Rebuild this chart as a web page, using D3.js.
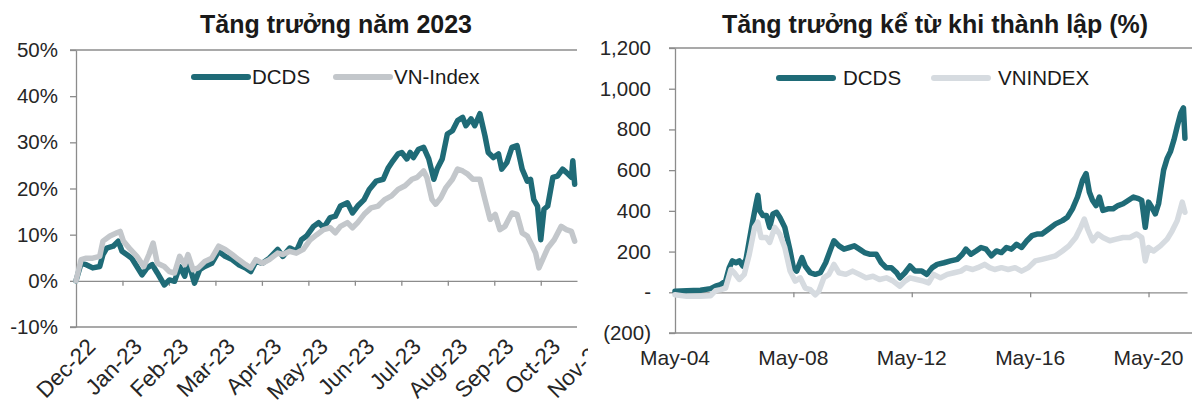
<!DOCTYPE html>
<html>
<head>
<meta charset="utf-8">
<script src="https://cdn.jsdelivr.net/npm/d3@7"></script>
<style>
body { margin: 0; background: #fff; }
svg { display: block; }
</style>
</head>
<body>
<div id="canvas"></div>
<script>
var w = 1192;
var h = 405;
var teal = "#1f6b77";
var grayLeft = "#c3c7cb";
var grayRight = "#d6dbe0";
var axisColor = "#8c8c8c";
var font = "'Liberation Sans', Arial, sans-serif";

// ---- left chart: growth in 2023 (x = months after Dec-22, y = %)
var ytdMonths = ["Dec-22", "Jan-23", "Feb-23", "Mar-23", "Apr-23", "May-23", "Jun-23",
                 "Jul-23", "Aug-23", "Sep-23", "Oct-23", "Nov-23"];
var ytdTicks = [-10, 0, 10, 20, 30, 40, 50];
var ytdDcds = [[0,0],[0.11,3.8],[0.22,3.5],[0.36,2.8],[0.51,3.1],[0.58,5.7],[0.66,7.1],[0.80,7.5],
  [0.91,8.6],[0.99,6.4],[1.09,5.7],[1.20,4.9],[1.31,3.1],[1.42,1.3],[1.53,2.8],[1.64,3.5],[1.75,1.7],
  [1.90,-0.9],[2.01,0.2],[2.12,-0.1],[2.23,3.1],[2.34,1.0],[2.41,4.4],[2.52,0.5],[2.55,-0.5],[2.66,2.4],
  [2.77,3.1],[2.92,3.8],[3.07,6.4],[3.21,5.3],[3.36,4.6],[3.50,3.5],[3.65,2.8],[3.76,2.0],[3.87,4.2],
  [4.01,3.8],[4.16,4.9],[4.34,6.8],[4.45,5.3],[4.60,7.1],[4.74,6.4],[4.85,8.9],[4.96,9.7],[5.11,11.8],
  [5.22,12.6],[5.33,11.5],[5.47,13.7],[5.58,14.0],[5.69,16.2],[5.84,16.9],[5.95,14.7],[6.06,16.2],
  [6.20,17.6],[6.31,19.8],[6.46,21.6],[6.61,22.0],[6.72,24.5],[6.82,26.0],[6.93,27.5],[7.01,27.8],
  [7.12,26.4],[7.19,27.8],[7.26,26.7],[7.37,28.5],[7.48,28.9],[7.59,26.4],[7.70,22.0],[7.77,24.2],
  [7.88,26.4],[7.99,31.8],[8.10,32.5],[8.21,34.7],[8.32,35.4],[8.39,33.6],[8.50,35.1],[8.58,33.6],
  [8.69,36.2],[8.80,31.4],[8.87,27.8],[8.98,26.7],[9.09,27.5],[9.16,24.2],[9.27,25.6],[9.38,28.9],
  [9.49,29.3],[9.60,24.2],[9.71,21.6],[9.78,22.0],[9.85,17.6],[9.93,16.2],[10.00,8.9],[10.07,15.5],
  [10.15,16.2],[10.26,22.4],[10.36,22.7],[10.47,24.2],[10.55,23.5],[10.66,22.4],[10.69,26.0],[10.73,20.9]];
var ytdVnIndex = [[0,0],[0.11,4.6],[0.22,4.9],[0.36,4.9],[0.51,5.3],[0.58,8.6],[0.73,9.7],[0.88,10.4],
  [0.95,10.7],[1.02,8.6],[1.17,6.8],[1.31,5.3],[1.46,3.1],[1.57,5.7],[1.66,8.2],[1.75,3.8],[1.90,3.1],
  [2.01,2.0],[2.12,1.7],[2.23,5.3],[2.34,3.5],[2.41,5.7],[2.52,2.4],[2.63,2.8],[2.77,4.2],[2.92,4.9],
  [3.07,7.5],[3.21,6.8],[3.36,5.7],[3.50,4.6],[3.65,3.5],[3.76,2.8],[3.87,4.6],[4.01,3.8],[4.16,4.6],
  [4.34,6.0],[4.45,5.7],[4.60,6.4],[4.74,6.0],[4.89,6.8],[5.04,8.9],[5.18,10.0],[5.33,11.1],[5.47,11.5],
  [5.58,10.4],[5.69,11.8],[5.84,12.6],[5.95,11.5],[6.06,12.6],[6.20,14.4],[6.35,15.8],[6.50,16.2],
  [6.64,17.6],[6.79,18.4],[6.93,19.8],[7.08,20.6],[7.23,22.0],[7.34,22.4],[7.48,23.8],[7.55,22.4],
  [7.66,17.6],[7.74,16.6],[7.85,18.0],[7.96,20.2],[8.10,22.0],[8.21,24.2],[8.32,23.8],[8.43,23.1],
  [8.54,22.0],[8.69,22.0],[8.80,17.6],[8.91,13.3],[9.02,14.4],[9.12,11.1],[9.23,11.8],[9.38,14.7],
  [9.49,14.4],[9.60,10.4],[9.71,9.7],[9.82,7.5],[9.89,6.0],[9.96,2.8],[10.04,4.6],[10.15,7.1],
  [10.29,8.9],[10.44,11.8],[10.55,11.1],[10.66,10.7],[10.73,8.6]];

// ---- right chart: growth since inception (x = years after May-04, y = %)
var sinceYears = ["May-04", "May-08", "May-12", "May-16", "May-20"];
var sinceTicks = [-200, 0, 200, 400, 600, 800, 1000, 1200];
var sinceDcds = [[0,5],[0.40,8],[0.86,10],[1.20,18],[1.37,30],[1.54,38],[1.71,55],[1.83,120],[1.94,154],
  [2.06,145],[2.17,154],[2.29,129],[2.40,162],[2.51,253],[2.63,352],[2.74,435],[2.80,476],[2.86,402],
  [2.97,377],[3.09,377],[3.20,319],[3.31,385],[3.43,393],[3.54,369],[3.71,319],[3.89,203],[4.00,121],
  [4.11,104],[4.29,170],[4.40,129],[4.57,96],[4.74,88],[4.91,96],[5.09,145],[5.26,212],[5.37,253],
  [5.54,228],[5.71,212],[5.89,220],[6.06,228],[6.23,212],[6.40,195],[6.57,187],[6.80,187],[6.97,145],
  [7.14,121],[7.31,121],[7.49,96],[7.60,71],[7.77,96],[7.94,129],[8.11,104],[8.34,104],[8.51,88],
  [8.69,121],[8.86,137],[9.09,145],[9.31,154],[9.54,162],[9.71,187],[9.83,212],[10.00,187],[10.17,203],
  [10.34,220],[10.51,212],[10.69,179],[10.86,203],[11.03,195],[11.20,220],[11.37,212],[11.54,236],
  [11.71,220],[11.89,253],[12.06,278],[12.23,286],[12.40,286],[12.63,311],[12.86,336],[13.09,352],
  [13.26,369],[13.43,410],[13.60,468],[13.77,550],[13.89,583],[14.00,493],[14.11,451],[14.23,426],
  [14.34,468],[14.46,402],[14.63,410],[14.80,410],[14.97,426],[15.14,435],[15.31,451],[15.49,468],
  [15.66,460],[15.77,451],[15.89,319],[16.00,443],[16.11,418],[16.23,385],[16.34,435],[16.51,600],
  [16.63,658],[16.74,691],[16.86,749],[16.97,815],[17.09,881],[17.18,906],[17.23,757]];
var sinceVnIndex = [[0,-12],[0.40,-20],[0.86,-20],[1.20,-17],[1.37,8],[1.54,13],[1.71,21],[1.89,112],
  [2.00,96],[2.17,63],[2.34,88],[2.51,187],[2.69,319],[2.80,344],[2.91,269],[3.09,269],[3.20,245],
  [3.37,319],[3.54,286],[3.71,220],[3.89,104],[4.06,55],[4.23,71],[4.40,21],[4.57,13],[4.74,-12],
  [4.86,5],[5.03,71],[5.20,88],[5.37,137],[5.54,96],[5.77,88],[6.00,104],[6.23,88],[6.46,71],[6.69,79],
  [6.91,63],[7.14,71],[7.37,55],[7.60,30],[7.77,55],[7.94,71],[8.17,63],[8.40,55],[8.57,46],[8.74,88],
  [8.97,71],[9.20,88],[9.43,96],[9.66,104],[9.83,121],[10.06,112],[10.23,121],[10.46,137],[10.63,121],
  [10.80,112],[11.03,121],[11.26,112],[11.49,121],[11.71,104],[11.94,121],[12.17,154],[12.40,162],
  [12.63,170],[12.86,179],[13.09,203],[13.31,228],[13.54,269],[13.71,319],[13.83,360],[13.94,311],
  [14.11,253],[14.29,286],[14.46,269],[14.69,253],[14.91,261],[15.14,269],[15.37,269],[15.60,286],
  [15.77,269],[15.89,154],[16.00,220],[16.17,203],[16.40,228],[16.63,261],[16.80,302],[16.97,352],
  [17.14,443],[17.23,393]];

var canvas = d3.select("#canvas")
  .append("svg")
  .attr("width", w)
  .attr("height", h)
  .style("font-family", font);

canvas.append("defs").append("clipPath").attr("id", "leftClip")
  .append("rect").attr("x", 0).attr("y", 0).attr("width", 588).attr("height", h);

function drawFrame(g, x, y, xEnd, yTicks, fmt, pad) {
  // top and bottom border lines
  [y.domain()[0], y.domain()[1]].forEach(function(v) {
    g.append("line")
      .attr("x1", x.range()[0] - 6).attr("x2", xEnd)
      .attr("y1", y(v)).attr("y2", y(v))
      .attr("stroke", axisColor).attr("stroke-width", 1.3);
  });
  var ay = g.append("g")
    .attr("transform", "translate(" + x.range()[0] + ",0)")
    .call(d3.axisLeft(y).tickValues(yTicks).tickSize(6).tickSizeOuter(0).tickPadding(pad).tickFormat(fmt));
  ay.selectAll("path, line").attr("stroke", axisColor).attr("stroke-width", 1.3);
  ay.selectAll("text").attr("fill", "#262626").style("font-size", "20.5px").style("font-family", font);
}

// ================= left chart
var left = canvas.append("g").attr("clip-path", "url(#leftClip)");
var xL = d3.scaleLinear().domain([0, 10.78]).range([76, 577]);
var yL = d3.scaleLinear().domain([-10, 50]).range([327, 50]);

left.append("text")
  .attr("x", 336).attr("y", 33)
  .attr("text-anchor", "middle")
  .attr("fill", "#1a1a1a")
  .style("font-size", "25px").style("font-weight", "bold")
  .text("Tăng trưởng năm 2023");

drawFrame(left, xL, yL, 577, ytdTicks, function(d) { return d + "%"; }, 12);

var zeroL = left.append("g")
  .attr("transform", "translate(0," + yL(0) + ")")
  .call(d3.axisBottom(xL).tickValues(d3.range(1, 11)).tickSize(5).tickSizeOuter(0).tickFormat(""));
zeroL.selectAll("path, line").attr("stroke", axisColor).attr("stroke-width", 1.3);

ytdMonths.forEach(function(m, i) {
  left.append("text")
    .attr("transform", "translate(" + (xL(i) + 9) + ",336) rotate(-45)")
    .attr("text-anchor", "end")
    .attr("dy", "0.75em")
    .attr("fill", "#262626")
    .style("font-size", "22.5px")
    .text(m);
});

var lineL = d3.line().x(function(d) { return xL(d[0]); }).y(function(d) { return yL(d[1]); });
left.append("path").datum(ytdDcds).attr("d", lineL)
  .attr("fill", "none").attr("stroke", teal).attr("stroke-width", 5.5)
  .attr("stroke-linejoin", "round").attr("stroke-linecap", "round");
left.append("path").datum(ytdVnIndex).attr("d", lineL)
  .attr("fill", "none").attr("stroke", grayLeft).attr("stroke-width", 5.5)
  .attr("stroke-linejoin", "round").attr("stroke-linecap", "round");

// legend
var legL = [["DCDS", teal, 194], ["VN-Index", grayLeft, 336]];
legL.forEach(function(d) {
  left.append("line").attr("x1", d[2]).attr("x2", d[2] + 54).attr("y1", 77).attr("y2", 77)
    .attr("stroke", d[1]).attr("stroke-width", 6).attr("stroke-linecap", "round");
  left.append("text").attr("x", d[2] + 58).attr("y", 84)
    .attr("fill", "#1a1a1a").style("font-size", "20.5px").text(d[0]);
});

// ================= right chart
var right = canvas.append("g");
var xR = d3.scaleLinear().domain([0, 17.3]).range([675, 1187]);
var yR = d3.scaleLinear().domain([-200, 1200]).range([333, 48]);

right.append("text")
  .attr("x", 935).attr("y", 33)
  .attr("text-anchor", "middle")
  .attr("fill", "#1a1a1a")
  .style("font-size", "25px").style("font-weight", "bold")
  .text("Tăng trưởng kể từ khi thành lập (%)");

drawFrame(right, xR, yR, 1192, sinceTicks, function(d) {
  if (d === 0) return "-";
  if (d < 0) return "(" + d3.format(",")(-d) + ")";
  return d3.format(",")(d);
}, 18);

var zeroR = right.append("g")
  .attr("transform", "translate(0," + yR(0) + ")")
  .call(d3.axisBottom(xR).tickValues([4, 8, 12, 16]).tickSize(5).tickSizeOuter(0).tickFormat(""));
zeroR.selectAll("path, line").attr("stroke", axisColor).attr("stroke-width", 1.3);

sinceYears.forEach(function(m, i) {
  right.append("text")
    .attr("x", xR(i * 4)).attr("y", 365)
    .attr("text-anchor", "middle")
    .attr("fill", "#262626")
    .style("font-size", "21px")
    .text(m);
});

var lineR = d3.line().x(function(d) { return xR(d[0]); }).y(function(d) { return yR(d[1]); });
right.append("path").datum(sinceDcds).attr("d", lineR)
  .attr("fill", "none").attr("stroke", teal).attr("stroke-width", 5.5)
  .attr("stroke-linejoin", "round").attr("stroke-linecap", "round");
right.append("path").datum(sinceVnIndex).attr("d", lineR)
  .attr("fill", "none").attr("stroke", grayRight).attr("stroke-width", 5.5)
  .attr("stroke-linejoin", "round").attr("stroke-linecap", "round");

var legR = [["DCDS", teal, 779], ["VNINDEX", grayRight, 934]];
legR.forEach(function(d) {
  right.append("line").attr("x1", d[2]).attr("x2", d[2] + 54).attr("y1", 78).attr("y2", 78)
    .attr("stroke", d[1]).attr("stroke-width", 6).attr("stroke-linecap", "round");
  right.append("text").attr("x", d[2] + 64).attr("y", 85)
    .attr("fill", "#1a1a1a").style("font-size", "20.5px").text(d[0]);
});
</script>
</body>
</html>
